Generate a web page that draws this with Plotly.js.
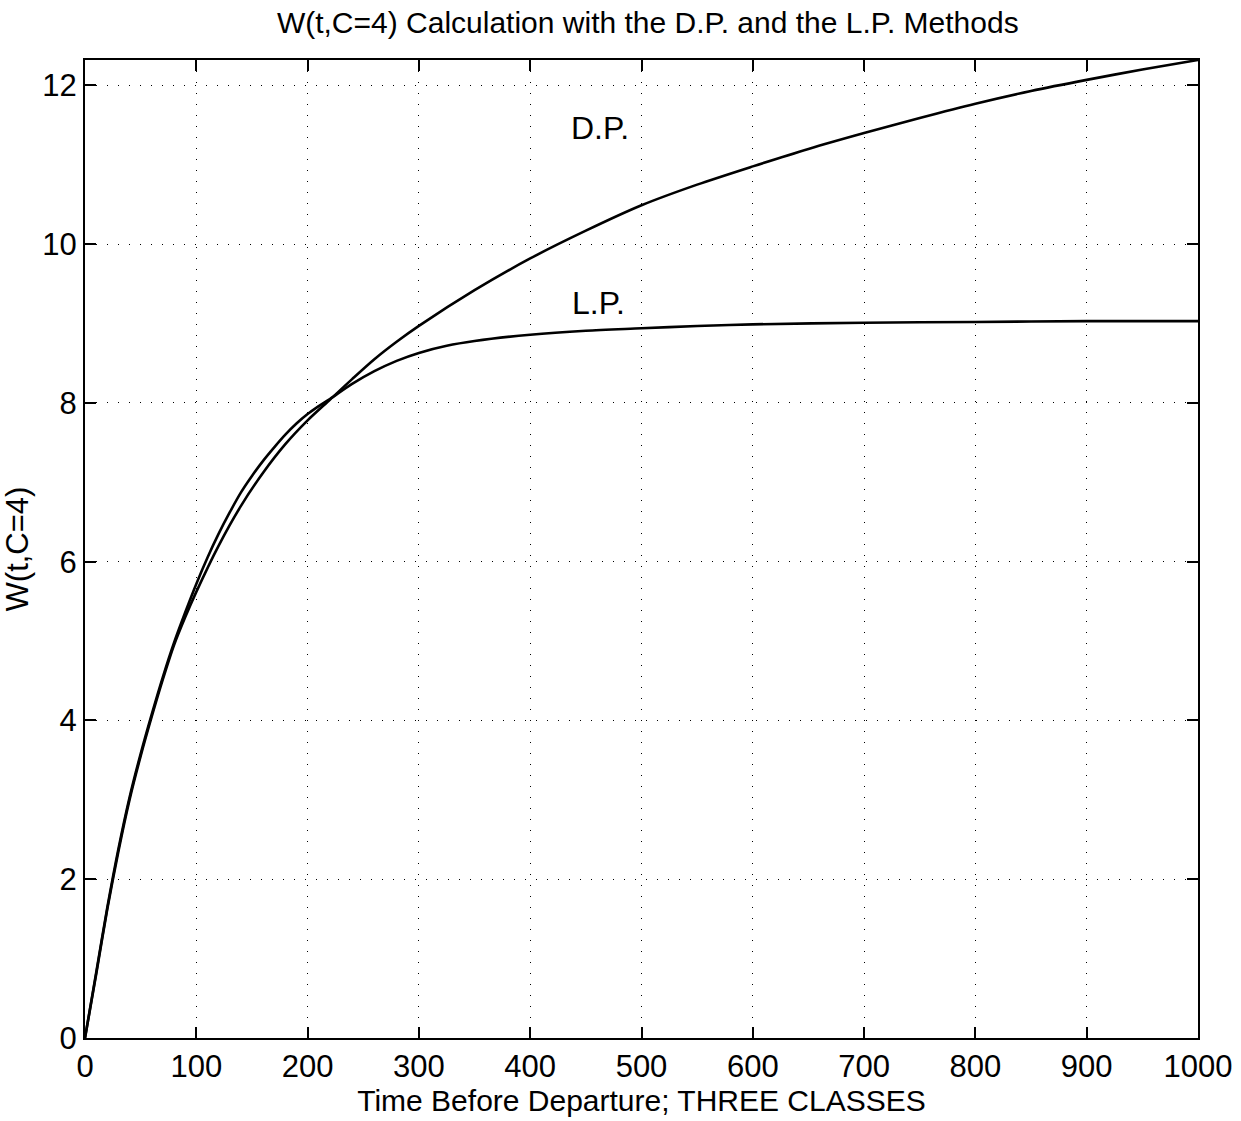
<!DOCTYPE html>
<html>
<head>
<meta charset="utf-8">
<script src="https://cdn.plot.ly/plotly-3.0.1.min.js"></script>
<style>html,body{margin:0;padding:0;background:#fff;}#chart{width:1241px;height:1121px;}</style>
</head>
<body>
<div id="chart"></div>
<script>
// Time before departure (x values) and W(t,C=4) values
const tDP = [0, 10, 20, 30, 40, 50, 60, 70, 80, 90, 100, 120, 140, 160, 180, 200, 220, 240, 260, 280, 300, 350, 400, 450, 500, 550, 600, 650, 700, 750, 800, 850, 900, 950, 1000];
const wDP = [0, 0.8, 1.62, 2.35, 3.0, 3.55, 4.05, 4.52, 4.95, 5.3, 5.62, 6.2, 6.7, 7.12, 7.48, 7.78, 8.04, 8.3, 8.55, 8.77, 8.97, 9.42, 9.82, 10.17, 10.49, 10.75, 10.98, 11.2, 11.4, 11.59, 11.77, 11.93, 12.07, 12.2, 12.32];

const tLP = [0, 10, 20, 30, 40, 50, 60, 70, 80, 90, 100, 110, 120, 130, 140, 150, 160, 170, 180, 190, 200, 210, 220, 240, 260, 280, 300, 325, 350, 400, 450, 500, 550, 600, 700, 800, 900, 1000];
const wLP = [0, 0.82, 1.64, 2.38, 3.03, 3.58, 4.08, 4.55, 4.98, 5.36, 5.72, 6.05, 6.35, 6.62, 6.87, 7.08, 7.27, 7.44, 7.6, 7.74, 7.86, 7.96, 8.05, 8.24, 8.4, 8.53, 8.63, 8.72, 8.78, 8.86, 8.91, 8.94, 8.97, 8.99, 9.01, 9.02, 9.03, 9.03];

const xTicks = [0, 100, 200, 300, 400, 500, 600, 700, 800, 900, 1000];
const yTicks = [0, 2, 4, 6, 8, 10, 12];

const labels = [
  {text: 'D.P.', x: 463, y: 11.46},
  {text: 'L.P.', x: 461, y: 9.26}
];

const FONT = 'Liberation Sans, Arial, Helvetica, sans-serif';

const traces = [
  {x: tDP, y: wDP, mode: 'lines', line: {color: '#000', width: 2.6, shape: 'spline', smoothing: 0.8}, name: 'D.P.', hoverinfo: 'skip'},
  {x: tLP, y: wLP, mode: 'lines', line: {color: '#000', width: 2.6, shape: 'spline', smoothing: 0.8}, name: 'L.P.', hoverinfo: 'skip'}
];

const axisCommon = {
  showline: true, linecolor: '#000', linewidth: 2, mirror: 'ticks',
  ticks: 'inside', ticklen: 11, tickwidth: 2, tickcolor: '#000',
  showgrid: true, gridcolor: '#000', gridwidth: 1, griddash: '1px,10px',
  zeroline: false,
  tickfont: {family: FONT, size: 31, color: '#000'}
};

const layout = {
  width: 1241, height: 1121,
  paper_bgcolor: '#fff', plot_bgcolor: '#fff',
  margin: {l: 85, r: 43, t: 60, b: 83},
  showlegend: false,
  title: {text: 'W(t,C=4) Calculation with the D.P. and the L.P. Methods',
          font: {family: FONT, size: 30, color: '#000'}, x: 0.522, xanchor: 'center', y: 0.98, yanchor: 'middle', yref: 'container'},
  xaxis: Object.assign({}, axisCommon, {
    range: [0, 1000], tickvals: xTicks, ticktext: xTicks.map(String),
    title: {text: 'Time Before Departure; THREE CLASSES', font: {family: FONT, size: 30, color: '#000'}, standoff: 2}
  }),
  yaxis: Object.assign({}, axisCommon, {
    range: [0, 12.32], tickvals: yTicks, ticktext: yTicks.map(String),
    title: {text: 'W(t,C=4)', font: {family: FONT, size: 31, color: '#000'}, standoff: 4}
  }),
  annotations: labels.map(l => ({
    x: l.x, y: l.y, xref: 'x', yref: 'y', text: l.text, showarrow: false,
    font: {family: FONT, size: 32, color: '#000'}
  }))
};

Plotly.newPlot('chart', traces, layout, {displayModeBar: false, staticPlot: true});
</script>
</body>
</html>
